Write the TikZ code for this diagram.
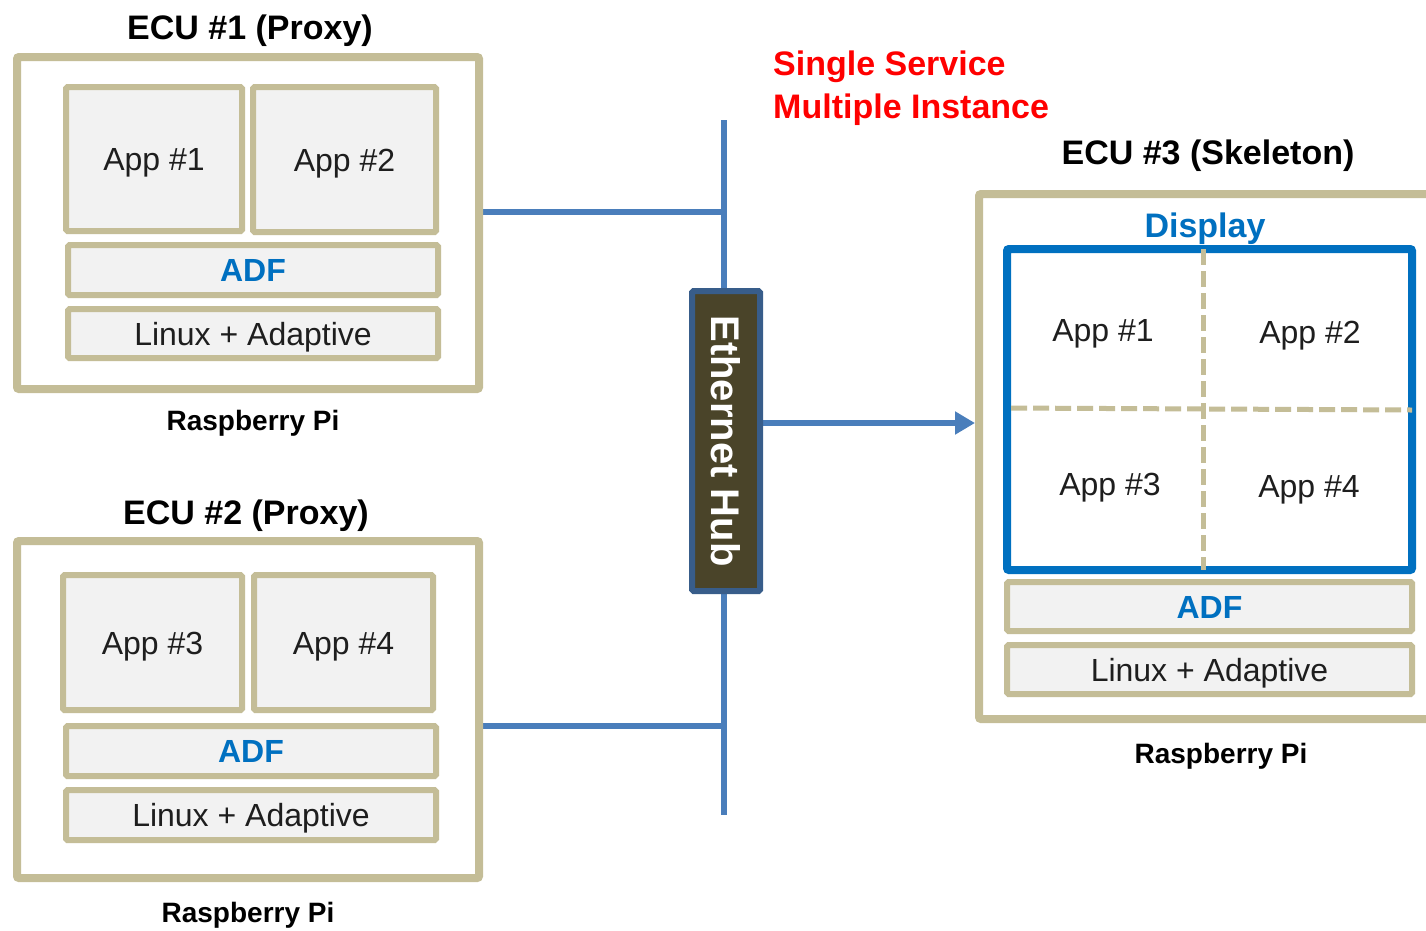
\documentclass[tikz,border=0pt]{standalone}
\usepackage{fontspec}
\setmainfont{Liberation Sans}
\usetikzlibrary{arrows.meta,backgrounds}

\definecolor{ecuTan}{HTML}{C4BD97}
\definecolor{layerGrey}{HTML}{F2F2F2}
\definecolor{busBlue}{HTML}{4A7EBB}
\definecolor{hubBorder}{HTML}{385D8A}
\definecolor{hubFill}{HTML}{4A4429}
\definecolor{adfBlue}{HTML}{0070C0}
\definecolor{inkDark}{HTML}{1E1E1E}
\definecolor{noteRed}{HTML}{FF0000}

\newcommand\appfont{\fontsize{32}{38}\selectfont}
\newcommand\headfont{\bfseries\fontsize{34}{40}\selectfont}
\newcommand\boardfont{\bfseries\fontsize{28}{34}\selectfont}
\newcommand\hubfont{\bfseries\fontsize{40}{46}\selectfont}

\begin{document}
\begin{tikzpicture}[x=1pt,y=-1pt,
  ecubox/.style={draw=ecuTan, line width=8pt, fill=white, rounded corners=2pt, inner sep=0pt},
  layer/.style={draw=ecuTan, line width=6pt, fill=layerGrey, rounded corners=1.5pt, inner sep=0pt,
                text height=23pt, text depth=0pt, font=\appfont, text=inkDark},
  adf/.style={layer, font=\bfseries\appfont, text=adfBlue},
  tag/.style={inner sep=0pt, text height=23pt, text depth=0pt, font=\appfont, text=inkDark},
  title/.style={anchor=base, inner sep=0pt, font=\headfont, text=black},
  board/.style={anchor=base, inner sep=0pt, font=\boardfont, text=black},
  note/.style={anchor=base west, inner sep=0pt, font=\headfont, text=noteRed},
  bus/.style={draw=busBlue, line width=6.5pt},
  divider/.style={draw=ecuTan, line width=5pt, dash pattern=on 16pt off 6pt},
]
\useasboundingbox (0,0) rectangle (1426,930);

% ---------------- ECU #1 ----------------
\node[ecubox, minimum width=462pt, minimum height=332pt] (ecu1) at (248,223) {};
\node[layer, minimum width=176pt, minimum height=144pt] (e1app1) at (154,159) {App \#1};
\node[layer, minimum width=183pt, minimum height=145pt] (e1app2) at (344.5,159.5) {App \#2};
\node[adf, minimum width=370pt, minimum height=50pt] (e1adf) at (253,270) {ADF};
\node[layer, minimum width=370pt, minimum height=49pt] (e1os) at (253,333.5) {Linux + Adaptive};
\node[title] (e1title) at (250,39) {ECU \#1 (Proxy)};
\node[board] (e1board) at (253,430) {Raspberry Pi};

% ---------------- ECU #2 ----------------
\node[ecubox, minimum width=462pt, minimum height=337pt] (ecu2) at (248,709.5) {};
\node[layer, minimum width=179pt, minimum height=135pt] (e2app3) at (152.5,642.5) {App \#3};
\node[layer, minimum width=179pt, minimum height=135pt] (e2app4) at (343.5,642.5) {App \#4};
\node[adf, minimum width=370pt, minimum height=50pt] (e2adf) at (251,751) {ADF};
\node[layer, minimum width=370pt, minimum height=50pt] (e2os) at (251,815) {Linux + Adaptive};
\node[title] (e2title) at (246,524) {ECU \#2 (Proxy)};
\node[board] (e2board) at (248,922) {Raspberry Pi};

% ---------------- Ethernet hub ----------------
\node[draw=hubBorder, line width=6pt, fill=hubFill, rounded corners=1.5pt,
      minimum width=68pt, minimum height=300pt, inner sep=0pt] (hub) at (726,441) {};
\node[rotate=-90, text=white, font=\hubfont, text height=28.6pt, text depth=0pt, inner sep=0pt]
      (hublabel) at (hub.center) {Ethernet Hub};

\node[note] (note1) at (773,75) {Single Service};
\node[note] (note2) at (773,118) {Multiple Instance};

% ---------------- ECU #3 ----------------
\begin{scope}
  \clip (0,0) rectangle (1426,930);
  \node[ecubox, minimum width=461pt, minimum height=525pt] (ecu3) at (1209.5,456.5) {};
\end{scope}
\node[title] (e3title) at (1208,164) {ECU \#3 (Skeleton)};
\node[draw=adfBlue, line width=8pt, fill=white, rounded corners=2pt,
      minimum width=405pt, minimum height=321pt, inner sep=0pt] (display) at (1209.5,409.5) {};
\node[anchor=base, inner sep=0pt, font=\headfont, text=adfBlue] (disptitle) at (1205,237) {Display};

\coordinate (vsplit) at (1203,409);
\coordinate (hsplitL) at (1007,408);
\coordinate (hsplitR) at (1412,410);
\draw[divider, shorten <=4pt, shorten >=4pt] (display.north -| vsplit) -- (display.south -| vsplit);
\draw[divider, shorten <=4pt] (hsplitL) -- (hsplitR);

\node[tag] (dapp1) at (1103,330) {App \#1};
\node[tag] (dapp2) at (1310,332) {App \#2};
\node[tag] (dapp3) at (1110,484) {App \#3};
\node[tag] (dapp4) at (1309,486) {App \#4};

\node[adf, minimum width=405pt, minimum height=49pt] (e3adf) at (1209.5,606.5) {ADF};
\node[layer, minimum width=405pt, minimum height=49pt] (e3os) at (1209.5,669.5) {Linux + Adaptive};
\node[board] (e3board) at (1221,763) {Raspberry Pi};

% ---------------- network wiring ----------------
\begin{pgfonlayer}{background}
  \coordinate (busTop) at (724,120);
  \coordinate (busBot) at (724,815);
  \coordinate (tap1) at (724,212);
  \coordinate (tap2) at (724,726);
  \coordinate (feed) at (724,423);
  \draw[bus] (busTop) -- (busBot);
  \draw[bus] (ecu1.east |- tap1) -- (tap1);
  \draw[bus] (ecu2.east |- tap2) -- (tap2);
  \draw[bus, -{Triangle[length=20pt,width=22pt]}] (hub.east |- feed) -- (ecu3.west |- feed);
\end{pgfonlayer}
\end{tikzpicture}
\end{document}
